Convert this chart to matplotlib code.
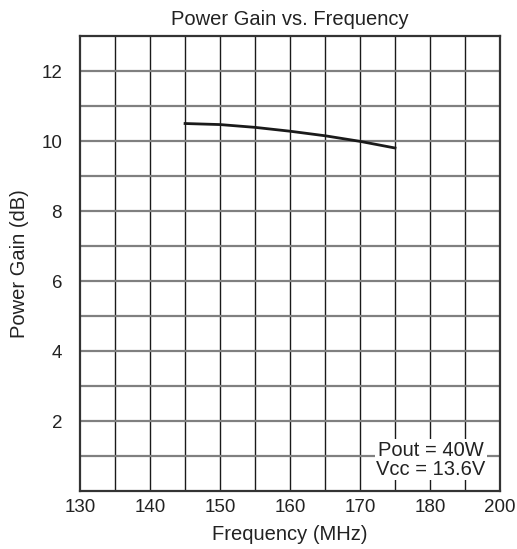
import matplotlib
matplotlib.use("Agg")
import matplotlib.pyplot as plt
import numpy as np

plt.rcParams['font.family'] = ['Liberation Sans', 'DejaVu Sans']

freq = [145, 150, 155, 160, 165, 170, 175]
gain = [10.51, 10.48, 10.40, 10.29, 10.16, 10.00, 9.81]
x_ticks = [130, 140, 150, 160, 170, 180, 190]
x_labels = ["130", "140", "150", "160", "170", "180", "200"]
y_ticks = [2, 4, 6, 8, 10, 12]


def visualize():
    fig = plt.figure(figsize=(5.17, 5.49), dpi=100)
    ax = fig.add_axes([0.155, 0.1056, 0.812, 0.828])
    ax.set_xlim(130, 190)
    ax.set_ylim(0, 13)

    for x in np.arange(135, 190, 5):
        ax.axvline(x, color="#1a1a1a", lw=1.0, zorder=1)
    for y in np.arange(1, 13, 1):
        ax.axhline(y, color="#808080", lw=1.6, zorder=1)

    ax.plot(freq, gain, color="#1a1a1a", lw=2.0, zorder=3)

    ax.set_xticks(x_ticks)
    ax.set_xticklabels(x_labels)
    ax.set_yticks(y_ticks)
    ax.tick_params(length=0, labelsize=13.5, colors="#222222")
    ax.tick_params(axis="x", pad=6)
    ax.tick_params(axis="y", pad=13)
    for s in ax.spines.values():
        s.set_linewidth(1.6)
        s.set_color("#333333")

    ax.set_title("Power Gain vs. Frequency", fontsize=14.5, color="#222222", pad=8)
    ax.set_xlabel("Frequency (MHz)", fontsize=14.5, color="#222222", labelpad=6)
    ax.set_ylabel("Power Gain (dB)", fontsize=14.5, color="#222222", labelpad=9)

    ax.text(180.1, 0.89, "Pout = 40W\nVcc = 13.6V", ha="center", va="center",
            fontsize=14.5, color="#222222", linespacing=1.0, zorder=4,
            bbox=dict(facecolor="white", edgecolor="none", pad=1.0))

    fig.savefig("out.png", dpi=100)


if __name__ == "__main__":
    visualize()
